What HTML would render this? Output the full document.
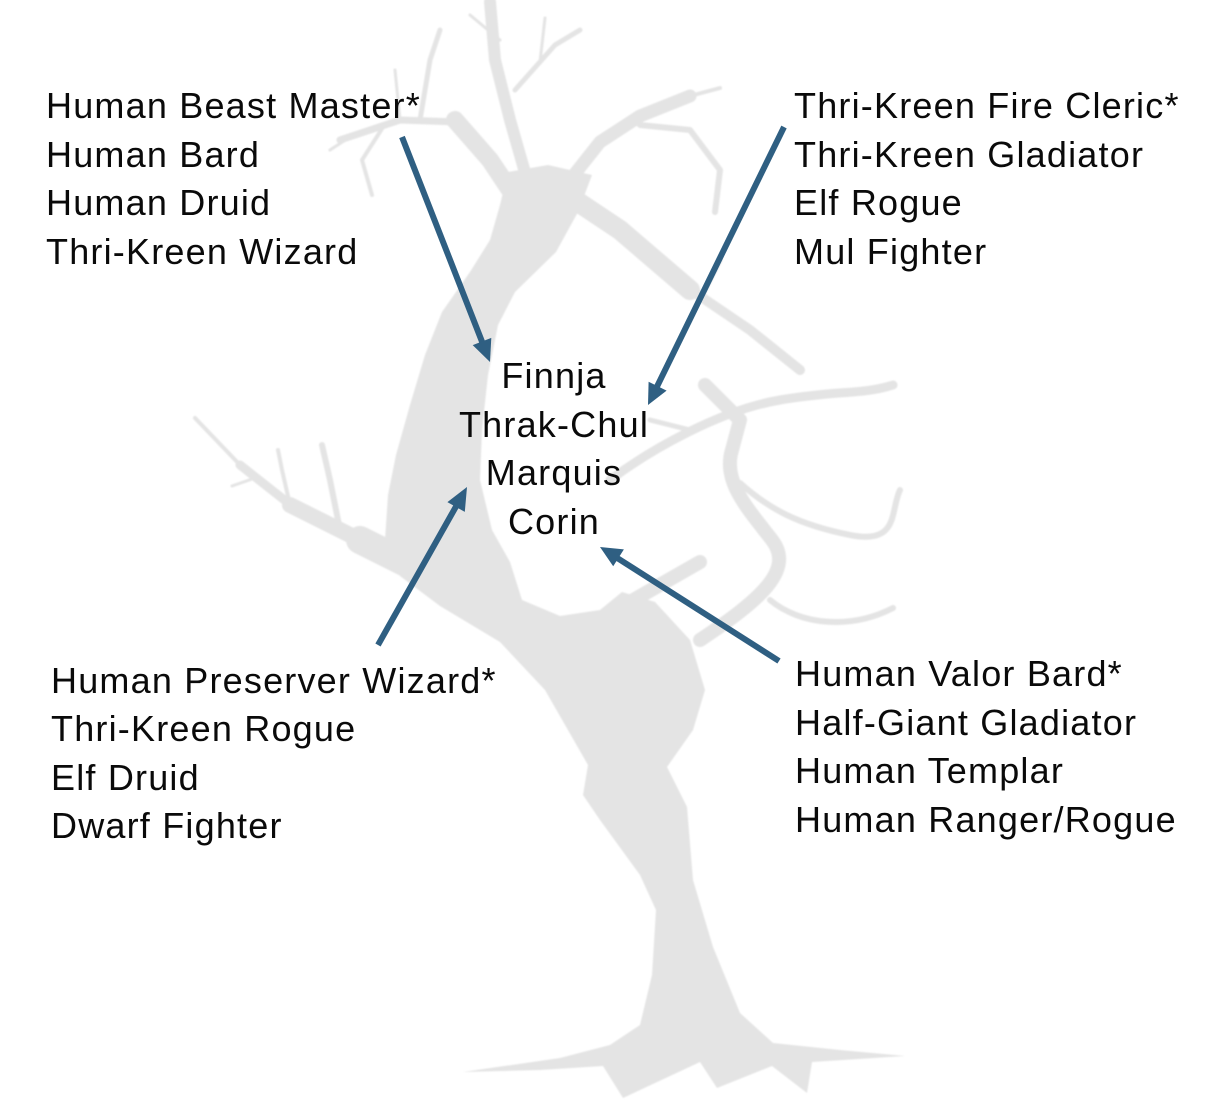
<!DOCTYPE html>
<html>
<head>
<meta charset="utf-8">
<style>
  html,body{margin:0;padding:0;background:#ffffff;}
  body{width:1212px;height:1104px;overflow:hidden;}
  svg{display:block;}
  .t{font-family:"Liberation Sans",Arial,sans-serif;font-size:36px;letter-spacing:1.2px;fill:#0a0a0a;}
</style>
</head>
<body>
<svg width="1212" height="1104" viewBox="0 0 1212 1104" xmlns="http://www.w3.org/2000/svg">
  <defs>
    <filter id="soft" x="-5%" y="-5%" width="110%" height="110%">
      <feGaussianBlur stdDeviation="0.9"/>
    </filter>
  </defs>
  <!-- Tree silhouette -->
  <g filter="url(#soft)">
  <g fill="#e4e4e4" stroke="none">
    <path d="M463,1072 L560,1058 L610,1045 L640,1025 L652,975 L656,910 L640,875 L600,820 L583,795 L588,765 L545,690 L500,642 L440,606 L400,576 L385,540 L388,495 L396,455 L410,405 L425,355 L442,312 L470,272 L490,240 L500,205 L508,172 L548,165 L592,175 L578,212 L556,252 L515,292 L498,325 L488,375 L482,430 L480,480 L492,530 L510,562 L522,600 L560,616 L600,610 L622,592 L655,602 L690,640 L705,690 L693,730 L667,767 L687,807 L693,880 L713,947 L740,1013 L773,1043 L840,1050 L905,1056 L812,1062 L807,1093 L772,1066 L717,1088 L700,1062 L623,1098 L603,1066 L540,1070 Z"/>
  </g>
  <g fill="none" stroke="#e4e4e4" stroke-linecap="round" stroke-linejoin="round">
    <path d="M430,575 L360,540" stroke-width="28"/>
    <path d="M362,541 L290,505" stroke-width="16"/>
    <path d="M292,506 L240,465" stroke-width="9"/>
    <path d="M241,466 L195,418" stroke-width="4"/>
    <path d="M340,530 L330,480 L322,445" stroke-width="6"/>
    <path d="M290,505 L282,470 L278,450" stroke-width="4"/>
    <path d="M255,478 L232,486" stroke-width="3"/>
    <path d="M520,205 L490,160 L455,120" stroke-width="18"/>
    <path d="M458,122 L400,120 L340,140" stroke-width="7"/>
    <path d="M420,120 L430,60 L440,30" stroke-width="5"/>
    <path d="M385,124 L362,160 L372,195" stroke-width="4"/>
    <path d="M400,120 L395,70" stroke-width="3"/>
    <path d="M350,137 L330,150" stroke-width="3"/>
    <path d="M530,190 L510,120 L495,60 L490,2" stroke-width="12"/>
    <path d="M515,90 L555,45 L580,30" stroke-width="5"/>
    <path d="M540,62 L545,18" stroke-width="3"/>
    <path d="M500,40 L470,15" stroke-width="3"/>
    <path d="M562,190 L600,142 L640,116 L690,96" stroke-width="13"/>
    <path d="M640,125 L690,130 L720,170 L715,212" stroke-width="6"/>
    <path d="M690,96 L720,88" stroke-width="4"/>
    <path d="M560,190 L620,230 L690,290" stroke-width="20"/>
    <path d="M688,288 L750,330 L800,370" stroke-width="10"/>
    <path d="M700,300 L720,260" stroke-width="5"/>
    <path d="M610,480 C650,450 720,410 780,400 S860,395 893,385" stroke-width="9"/>
    <path d="M700,640 C760,600 795,570 772,540 S722,482 732,450 L740,420 L705,385" stroke-width="14"/>
    <path d="M740,483 C770,510 800,525 850,535 S890,510 900,490" stroke-width="6"/>
    <path d="M770,600 C800,625 850,630 893,608" stroke-width="6"/>
    <path d="M630,602 L700,562" stroke-width="14"/>
    <path d="M690,430 L650,420" stroke-width="5"/>
  </g>
  </g>

  <!-- Arrows -->
  <g stroke="#2f5f82" stroke-width="6" fill="none" stroke-linecap="butt">
    <line x1="402" y1="137" x2="484.5" y2="348"/>
    <line x1="784" y1="127" x2="654.6" y2="391.5"/>
    <line x1="378" y1="645" x2="459.6" y2="500.1"/>
    <line x1="779" y1="661" x2="612.7" y2="555.1"/>
  </g>
  <g fill="#2f5f82">
    <polygon points="490,362 472.7,345.1 491.3,337.9"/>
    <polygon points="648,405 648.6,381.8 666.6,390.6"/>
    <polygon points="467,487 447.4,502.1 464.8,511.9"/>
    <polygon points="600,547 613.2,566.2 623.9,549.4"/>
  </g>

  <!-- Text: top-left -->
  <text class="t" x="46" y="118">Human Beast Master*</text>
  <text class="t" x="46" y="167">Human Bard</text>
  <text class="t" x="46" y="215">Human Druid</text>
  <text class="t" x="46" y="264">Thri-Kreen Wizard</text>

  <!-- Text: top-right -->
  <text class="t" x="794" y="118">Thri-Kreen Fire Cleric*</text>
  <text class="t" x="794" y="167">Thri-Kreen Gladiator</text>
  <text class="t" x="794" y="215">Elf Rogue</text>
  <text class="t" x="794" y="264">Mul Fighter</text>

  <!-- Text: center -->
  <text class="t" x="554" y="388" text-anchor="middle">Finnja</text>
  <text class="t" x="554" y="437" text-anchor="middle">Thrak-Chul</text>
  <text class="t" x="554" y="485" text-anchor="middle">Marquis</text>
  <text class="t" x="554" y="534" text-anchor="middle">Corin</text>

  <!-- Text: bottom-left -->
  <text class="t" x="51" y="693">Human Preserver Wizard*</text>
  <text class="t" x="51" y="741">Thri-Kreen Rogue</text>
  <text class="t" x="51" y="790">Elf Druid</text>
  <text class="t" x="51" y="838">Dwarf Fighter</text>

  <!-- Text: bottom-right -->
  <text class="t" x="795" y="686">Human Valor Bard*</text>
  <text class="t" x="795" y="735">Half-Giant Gladiator</text>
  <text class="t" x="795" y="783">Human Templar</text>
  <text class="t" x="795" y="832">Human Ranger/Rogue</text>
</svg>
</body>
</html>
